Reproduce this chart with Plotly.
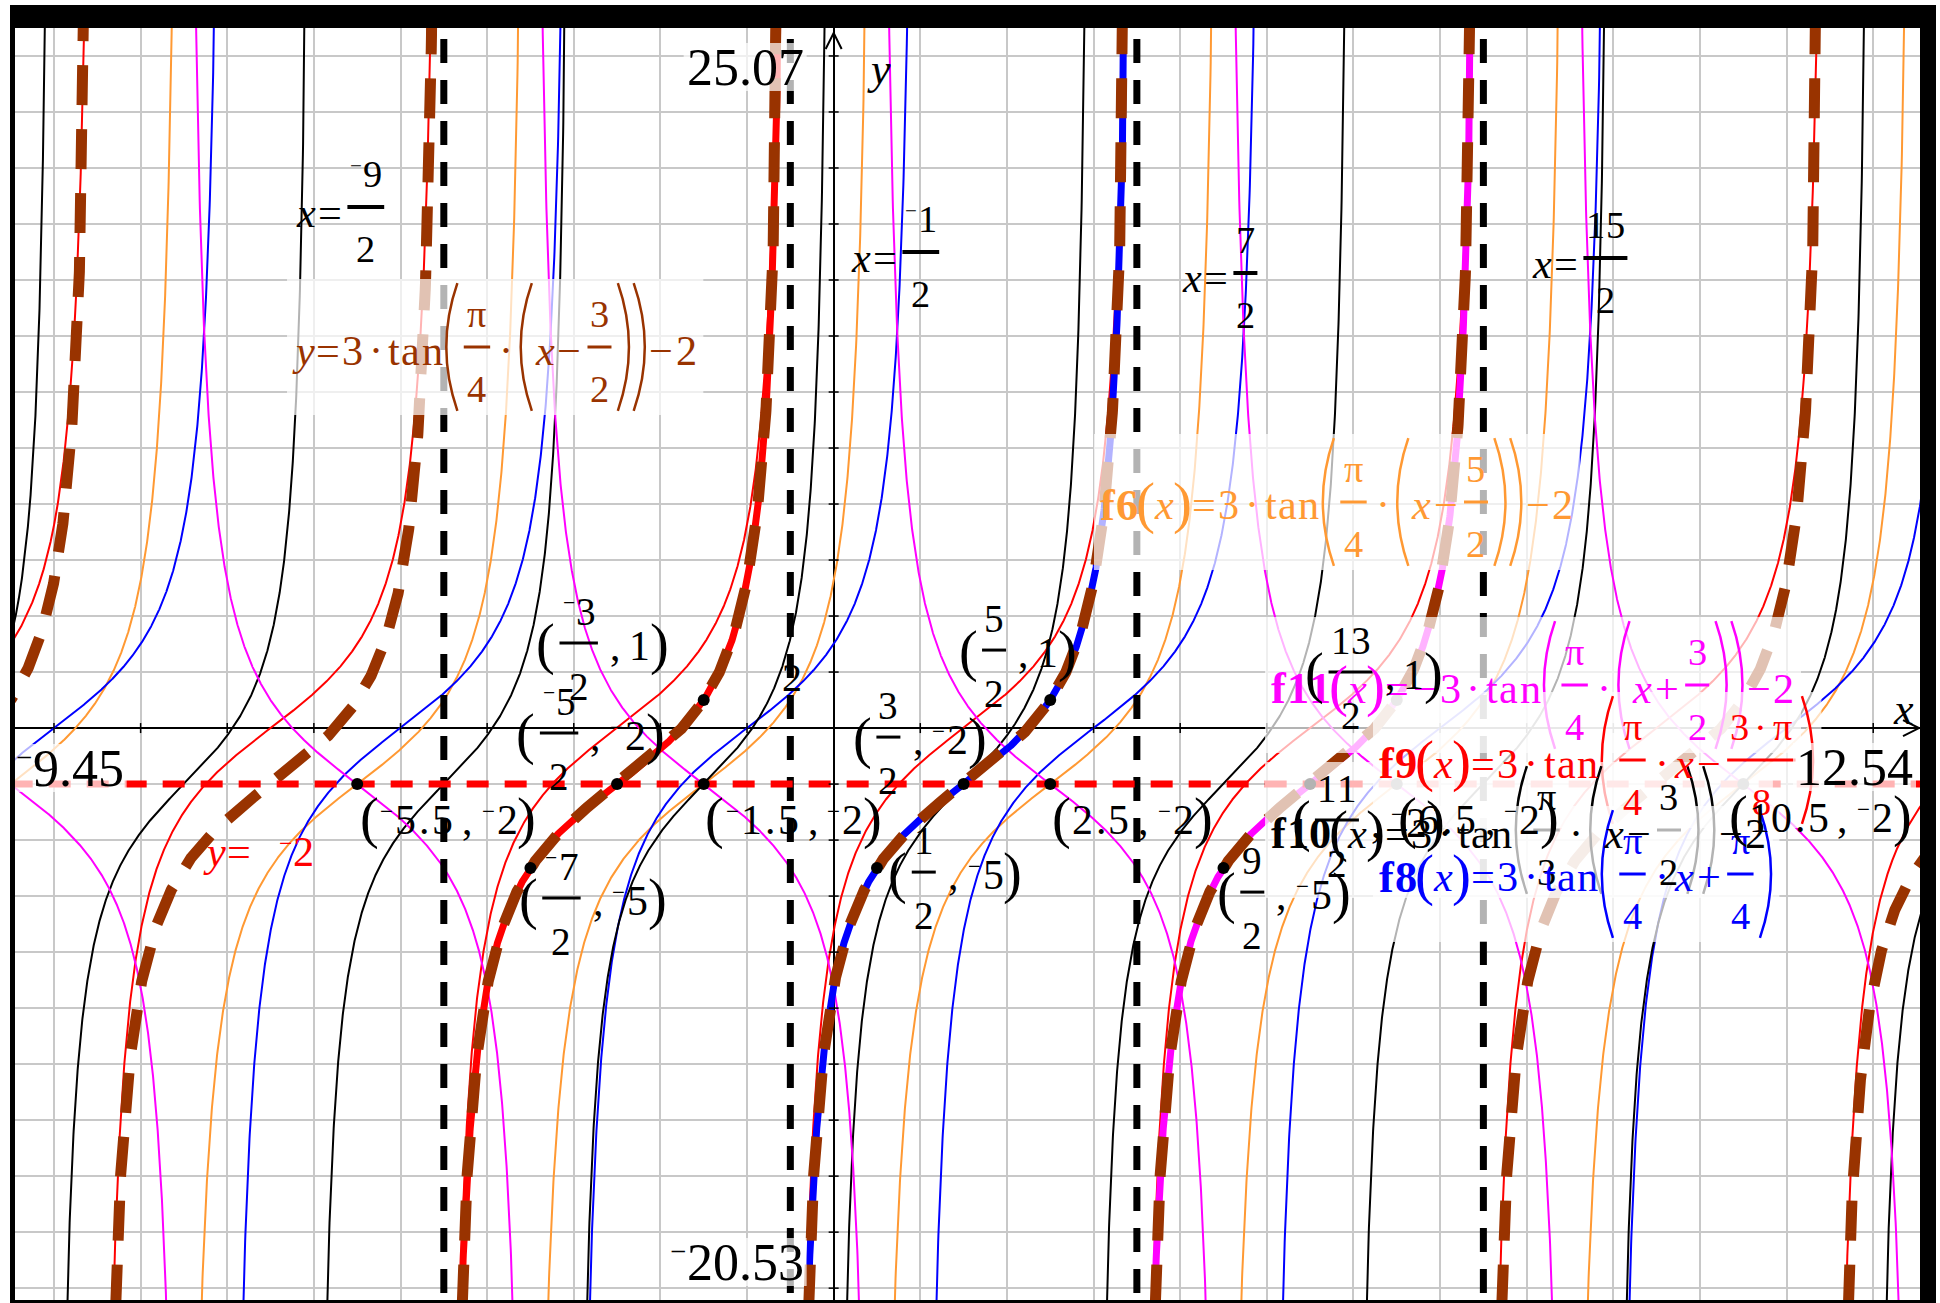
import numpy as np
import plotly.graph_objects as go

# ---------------- viewing window ----------------
X_MIN, X_MAX = -9.45, 12.54
Y_MIN, Y_MAX = -20.53, 25.07

# ---------------- graphs: y = a·tan(b·(x − h)) + k ----------------
FN_NAMES = ["f6", "f8", "f9", "f10", "f11"]
FN_A = [3, 3, 3, 3, -3]
FN_B = [np.pi / 4, np.pi / 4, np.pi / 4, np.pi / 3, np.pi / 4]
FN_H = [2.5, -1.0, 1.5, 1.5, -1.5]
FN_K = [-2, 0, 0, -2, -2]

# relation y = 3·tan(π/4·(x − 3/2)) − 2
REL_A, REL_B, REL_H, REL_K = 3, np.pi / 4, 1.5, -2

# single periods of the relation traced separately
PIECE_LO = [-4.5, -0.5, 3.5]
PIECE_HI = [-0.5, 3.5, 7.5]

# asymptotes and midline
ASYMPTOTES_X = [-4.5, -0.5, 3.5, 7.5]
MIDLINE_Y = -2

# marked points
PT_X = [-5.5, -1.5, 2.5, 6.5, 10.5, -1.5, -2.5, -3.5, 1.5, 2.5, 0.5, 4.5, 5.5, 6.5]
PT_Y = [-2, -2, -2, -2, -2, 1, -2, -5, -2, 1, -5, -5, -2, 1]
PT_FORM = ["dec"] * 5 + ["frac"] * 9

# ---------------- styling ----------------
W, H = 1940, 1303
ML, MR, MT, MB = 15, 20, 26, 0
PW, PH = W - ML - MR, H - MT - MB
SERIF = "Liberation Serif, Times New Roman, serif"
FN_COLORS = {"f6": "#ff9933", "f8": "#0000ff", "f9": "#ff0000", "f10": "#000000", "f11": "#ff00ff"}
BROWN = "#993300"
PIECE_COLORS = ["#ff0000", "#0000ff", "#ff00ff"]
GRID = "#c8c8c8"
BOX = "rgba(255,255,255,0.7)"

# label placement (pixel offsets of each point label from its point)
PT_LABEL_DX = [2, 1, 1, 1, -15, -168, -101, -12, -111, -92, 11, -7, -19, -92]
PT_LABEL_DY = [36, 36, 36, 36, 34, -54, -48, 33, -44, -47, 7, 27, 39, -25]


def X(v):
    return ML + (v - X_MIN) / (X_MAX - X_MIN) * PW


def Y(v):
    return MT + (Y_MAX - v) / (Y_MAX - Y_MIN) * PH


def px_x(p):
    return (p - ML) / PW


def px_y(p):
    return (H - MB - p) / PH


def tan_graph(a, b, h, k, lo, hi, n=1500):
    period = np.pi / b
    eps = period * 2e-4
    xs, ys = [], []
    m = np.floor((lo - h) / period - 0.5)
    left = h + (m + 0.5) * period
    while left < hi:
        right = left + period
        x0 = max(left, lo)
        x1 = min(right, hi)
        if x1 > x0:
            if abs(x0 - left) < 1e-9:
                x0 += eps
            if abs(x1 - right) < 1e-9:
                x1 -= eps
            x = np.linspace(x0, x1, n)
            y = np.clip(a * np.tan(b * (x - h)) + k, -80, 80)
            xs.extend(x.tolist())
            xs.append(None)
            ys.extend(y.tolist())
            ys.append(None)
        left = right
    return xs, ys


fig = go.Figure()

for name, a, b, h, k in zip(FN_NAMES, FN_A, FN_B, FN_H, FN_K):
    xs, ys = tan_graph(a, b, h, k, X_MIN - 0.3, X_MAX + 0.3)
    fig.add_trace(go.Scatter(x=xs, y=ys, mode="lines", hoverinfo="skip",
                             line=dict(color=FN_COLORS[name], width=2)))

for lo, hi, col in zip(PIECE_LO, PIECE_HI, PIECE_COLORS):
    xs, ys = tan_graph(REL_A, REL_B, REL_H, REL_K, lo, hi)
    fig.add_trace(go.Scatter(x=xs, y=ys, mode="lines", hoverinfo="skip",
                             line=dict(color=col, width=7)))

xs, ys = tan_graph(REL_A, REL_B, REL_H, REL_K, X_MIN - 0.3, X_MAX + 0.3)
fig.add_trace(go.Scatter(x=xs, y=ys, mode="lines", hoverinfo="skip",
                         line=dict(color=BROWN, width=11, dash="40px,24px")))

for xv in ASYMPTOTES_X:
    fig.add_trace(go.Scatter(x=[xv, xv], y=[Y_MAX + 1, Y_MIN - 1], mode="lines", hoverinfo="skip",
                             line=dict(color="black", width=7, dash="24px,17px")))

fig.add_trace(go.Scatter(x=[X_MIN - 0.05, X_MAX + 1], y=[MIDLINE_Y, MIDLINE_Y], mode="lines",
                         hoverinfo="skip", line=dict(color="#ff0000", width=7, dash="22px,16px")))

# axis tick marks
dy_t = 5 / PH * (Y_MAX - Y_MIN)
dx_t = 5 / PW * (X_MAX - X_MIN)
tx, ty = [], []
for xv in range(int(np.ceil(X_MIN)), int(np.floor(X_MAX)) + 1):
    if xv != 0:
        tx += [xv, xv, None]
        ty += [-dy_t, dy_t, None]
for yv in range(-20, 26, 2):
    if yv != 0:
        tx += [-dx_t, dx_t, None]
        ty += [yv, yv, None]
fig.add_trace(go.Scatter(x=tx, y=ty, mode="lines", hoverinfo="skip",
                         line=dict(color="black", width=1.5)))

fig.add_trace(go.Scatter(x=PT_X, y=PT_Y, mode="markers", hoverinfo="skip",
                         marker=dict(color="black", size=12)))

# ---------------- text layout helpers ----------------
annotations = []
shapes = []

# advance widths (in em of the slot size)
EM = {".": 0.25, ",": 0.3, " ": 0.3, "(": 0.36, ")": 0.36, "=": 0.62, "·": 0.55,
      "−": 0.64, "+": 0.64, "t": 0.3, "a": 0.46, "n": 0.52, "x": 0.48, "y": 0.48,
      "f": 0.36, "π": 0.56, "⁻": 0.32}
EM_PT = dict(EM)
EM_PT.update({"(": 0.45, ")": 0.4, ".": 0.34, ",": 0.6, " ": 0.0, "⁻": 0.36})


def glyph(ch, cx, cy, size, color, style=""):
    if ch == " ":
        return
    txt = ch
    if style == "i":
        txt = "<i>%s</i>" % ch
    elif style == "b":
        txt = "<b>%s</b>" % ch
    annotations.append(dict(xref="paper", yref="paper", x=px_x(cx), y=px_y(cy), text=txt,
                            showarrow=False, xanchor="center", yanchor="middle",
                            font=dict(family=SERIF, size=size, color=color)))


def text_w(s, size, em=EM):
    return sum(em.get(c, 0.5) for c in s) * size


def run(text, x, cy, size, color, style="", em=EM, gs=0.96, ps=1.35):
    g = size * gs
    for ch in text:
        w = em.get(ch, 0.5) * size
        if ch == "⁻":
            glyph("−", x + w / 2, cy - 0.2 * g, 0.55 * g, color)
        elif ch in "()":
            glyph(ch, x + w / 2, cy - 0.04 * g, g * ps, color)
        else:
            st = style if ch not in "=·−+,." else ""
            glyph(ch, x + w / 2, cy, g * (1.05 if st == "b" else 1.0), color, st)
        x += w
    return x


def compose(items, x, cy, size, color, fsize, bar_dy, num_dy, den_dy, bar_w=3, big=1.45,
            em=EM, gs=0.96, fgs=0.96, ps=1.35):
    for it in items:
        kind = it[0]
        if kind == "t":
            x = run(it[1], x, cy, size, color, it[2] if len(it) > 2 else "", em, gs, ps)
        elif kind == "f":
            wn, wd = text_w(it[1], fsize, em), text_w(it[2], fsize, em)
            w = max(wn, wd) + 0.3 * fsize
            cx = x + w / 2
            by = cy + bar_dy
            run(it[1], cx - wn / 2, by + num_dy, fsize, color, "", em, fgs)
            run(it[2], cx - wd / 2, by + den_dy, fsize, color, "", em, fgs)
            shapes.append(dict(type="line", xref="paper", yref="paper", layer="above",
                               x0=px_x(x + 0.1 * fsize), x1=px_x(x + w - 0.1 * fsize),
                               y0=px_y(by), y1=px_y(by), line=dict(color=color, width=bar_w)))
            x += w
        elif kind in ("L", "R"):
            w = 0.36 * size
            by = cy + bar_dy
            top, bot = by - big * size, by + big * size
            if kind == "L":
                xe, xm = x + 0.85 * w, x + 0.15 * w
            else:
                xe, xm = x + 0.15 * w, x + 0.85 * w
            cxp = 2 * xm - xe
            path = "M %f,%f Q %f,%f %f,%f" % (px_x(xe), px_y(top), px_x(cxp), px_y(by),
                                              px_x(xe), px_y(bot))
            shapes.append(dict(type="path", xref="paper", yref="paper", layer="above",
                               path=path, line=dict(color=color, width=2.5)))
            x += w
    return x


def boxed_formula(items, x, cy, color, size=44, fsize=40):
    idx = len(shapes)
    x_end = compose(items, x, cy, size, color, fsize, -3, -33, 42)
    shapes.insert(idx, dict(type="rect", xref="paper", yref="paper", layer="above",
                            x0=px_x(x - 6), x1=px_x(x_end + 6), y0=px_y(cy - 3 + 68),
                            y1=px_y(cy - 3 - 68), fillcolor=BOX, line=dict(width=0)))


def fmt(v, form):
    sign = "⁻" if v < 0 else ""
    av = abs(v)
    if form == "frac" and av != int(av):
        return [("f", sign + str(int(round(av * 2))), "2")]
    return [("t", sign + ("%g" % av))]


def window_label(v, x_edge, cy, anchor):
    s = ("⁻" if v < 0 else "") + "%.2f" % abs(v)
    size = 52
    w = text_w(s, size)
    x0 = x_edge - w if anchor == "right" else x_edge
    shapes.append(dict(type="rect", xref="paper", yref="paper", layer="above",
                       x0=px_x(x0 - 3), x1=px_x(x0 + w + 3), y0=px_y(cy + 24), y1=px_y(cy - 24),
                       fillcolor=BOX, line=dict(width=0)))
    run(s, x0, cy, size, "black", gs=1.0)


def rect_px(x0, y0, x1, y1, color):
    shapes.append(dict(type="rect", xref="paper", yref="paper", layer="above",
                       x0=px_x(x0), x1=px_x(x1), y0=px_y(y1), y1=px_y(y0),
                       fillcolor=color, line=dict(width=0)))


# axis arrowheads and names
ax0, ay0 = X(0), Y(0)
shapes.append(dict(type="path", xref="paper", yref="paper", layer="above",
                   path="M %f,%f L %f,%f L %f,%f" % (px_x(ax0 - 8), px_y(49), px_x(ax0), px_y(33),
                                                     px_x(ax0 + 8), px_y(49)),
                   line=dict(color="black", width=2)))
shapes.append(dict(type="path", xref="paper", yref="paper", layer="above",
                   path="M %f,%f L %f,%f L %f,%f" % (px_x(1903), px_y(ay0 - 8), px_x(1919), px_y(ay0),
                                                     px_x(1903), px_y(ay0 + 8)),
                   line=dict(color="black", width=2)))
glyph("x", 1903, 709, 44, "black", "i")
glyph("y", 879, 70, 44, "black", "i")

# ---------------- formula labels ----------------
boxed_formula([("t", "y", "i"), ("t", "=3·tan"), ("L",), ("f", "π", "4"), ("t", "·"), ("L",),
               ("t", "x", "i"), ("t", "−"), ("f", "3", "2"), ("R",), ("R",), ("t", "−2")],
              293, 350, BROWN)
boxed_formula([("t", "f6", "b"), ("t", "("), ("t", "x", "i"), ("t", ")=3·tan"), ("L",),
               ("f", "π", "4"), ("t", "·"), ("L",), ("t", "x", "i"), ("t", "−"), ("f", "5", "2"),
               ("R",), ("R",), ("t", "−2")],
              1100, 505, FN_COLORS["f6"])
boxed_formula([("t", "f11", "b"), ("t", "("), ("t", "x", "i"), ("t", ")=−3·tan"), ("L",),
               ("f", "π", "4"), ("t", "·"), ("L",), ("t", "x", "i"), ("t", "+"), ("f", "3", "2"),
               ("R",), ("R",), ("t", "−2")],
              1271, 688, FN_COLORS["f11"])
boxed_formula([("t", "f9", "b"), ("t", "("), ("t", "x", "i"), ("t", ")=3·tan"), ("L",),
               ("f", "π", "4"), ("t", "·"), ("t", "x", "i"), ("t", "−"), ("f", "3·π", "8"), ("R",)],
              1379, 763, FN_COLORS["f9"])
boxed_formula([("t", "f10", "b"), ("t", "("), ("t", "x", "i"), ("t", ")=3·tan"), ("L",),
               ("f", "π", "3"), ("t", "·"), ("L",), ("t", "x", "i"), ("t", "−"), ("f", "3", "2"),
               ("R",), ("R",), ("t", "−2")],
              1271, 833, FN_COLORS["f10"])
boxed_formula([("t", "f8", "b"), ("t", "("), ("t", "x", "i"), ("t", ")=3·tan"), ("L",),
               ("f", "π", "4"), ("t", "·"), ("t", "x", "i"), ("t", "+"), ("f", "π", "4"), ("R",)],
              1379, 877, FN_COLORS["f8"])

# ---------------- asymptote and midline labels ----------------
ASYM_LABEL_POS = [(295, 212), (850, 257), (1181, 278), (1531, 263)]
for xv, (lx, ly) in zip(ASYMPTOTES_X, ASYM_LABEL_POS):
    compose([("t", "x", "i"), ("t", "=")] + fmt(xv, "frac"), lx, ly, 44, "black", 40, -5, -33, 42,
            bar_w=4)

compose([("t", "y", "i"), ("t", "=  ")] + fmt(MIDLINE_Y, "dec"), 204, 851, 44, "#ff0000", 40,
        -3, -33, 42)

# ---------------- point labels ----------------
for xv, yv, form, dx, dy in zip(PT_X, PT_Y, PT_FORM, PT_LABEL_DX, PT_LABEL_DY):
    items = [("t", "(")] + fmt(xv, form) + [("t", ", ")] + fmt(yv, form) + [("t", ")")]
    compose(items, X(xv) + dx, Y(yv) + dy, 44, "black", 40, -3, -32, 43,
            em=EM_PT, gs=0.95, fgs=0.98, ps=1.35)

glyph("2", 792, 677, 40, "black")

# ---------------- window corner values ----------------
window_label(Y_MAX, X(0) - 30, 67, "right")
window_label(Y_MIN, X(0) - 30, 1262, "right")
window_label(X_MIN, 16, 768, "left")
window_label(X_MAX, 1913, 767, "right")

# frame
rect_px(10, 5, 1936, 28, "black")
rect_px(10, 5, 15, 1303, "black")
rect_px(1920, 5, 1936, 1303, "black")
rect_px(10, 1300, 1936, 1303, "black")

fig.update_layout(
    width=W, height=H,
    margin=dict(l=ML, r=MR, t=MT, b=MB, pad=0),
    paper_bgcolor="white", plot_bgcolor="white",
    showlegend=False,
    xaxis=dict(range=[X_MIN, X_MAX], showgrid=True, gridcolor=GRID, gridwidth=2, dtick=1, tick0=0,
               zeroline=True, zerolinecolor="black", zerolinewidth=2, showticklabels=False,
               ticks="", fixedrange=True),
    yaxis=dict(range=[Y_MIN, Y_MAX], showgrid=True, gridcolor=GRID, gridwidth=2, dtick=2, tick0=0,
               zeroline=True, zerolinecolor="black", zerolinewidth=2, showticklabels=False,
               ticks="", fixedrange=True),
    shapes=shapes,
    annotations=annotations,
)

fig.write_html("out.html", config={"displayModeBar": False})
